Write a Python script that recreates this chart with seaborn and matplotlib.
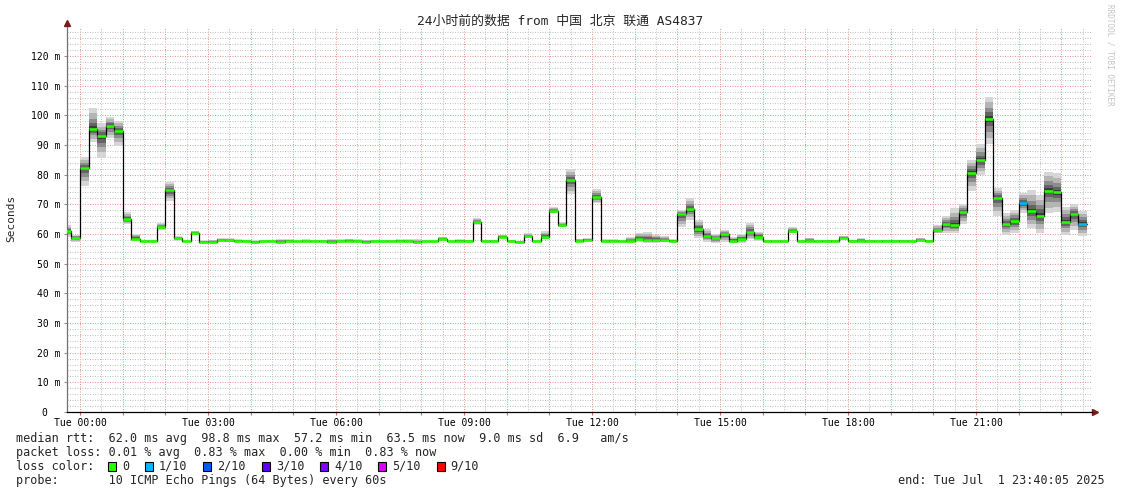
"""
SmokePing style latency graph: 24h of ICMP pings to China Unicom Beijing (AS4837).
"""
import matplotlib
matplotlib.use("Agg")
import matplotlib.pyplot as plt
from matplotlib.ticker import MultipleLocator, FuncFormatter
from matplotlib.patches import Rectangle
import pandas as pd
import seaborn as sns

sns.set_theme(style="white")
MONO = ["DejaVu Sans Mono", "Noto Sans CJK SC"]
plt.rcParams["font.family"] = MONO

W, H = 1121, 494

# 12 minute consolidation bins, minutes relative to Tue 00:00 (first bin is partial)
bin_start_min = [-20] + list(range(-12, 1416, 12))
bin_end_min = 1416

median_ms = [
    61.1, 58.7, 82.2, 95.4, 93.0, 96.5, 94.8, 65.0, 58.4, 57.5,
    57.5, 62.3, 74.7, 58.5, 57.5, 60.4, 57.4, 57.4, 58.0, 57.9,
    57.7, 57.6, 57.4, 57.5, 57.5, 57.4, 57.6, 57.5, 57.5, 57.6,
    57.5, 57.4, 57.5, 57.8, 57.5, 57.4, 57.6, 57.5, 57.5, 57.6,
    57.5, 57.3, 57.5, 57.5, 58.4, 57.5, 57.8, 57.7, 63.9, 57.6,
    57.6, 59.1, 57.7, 57.2, 59.4, 57.6, 59.0, 67.8, 63.0, 78.2,
    57.7, 58.1, 72.5, 57.6, 57.6, 57.6, 57.7, 58.4, 58.0, 58.0,
    58.0, 57.8, 66.6, 68.5, 61.7, 59.3, 58.5, 59.9, 57.8, 58.4,
    60.6, 59.1, 57.6, 57.6, 57.6, 61.1, 57.6, 57.6, 57.6, 57.7,
    57.7, 58.8, 57.7, 57.7, 57.7, 57.6, 57.7, 57.7, 57.7, 57.6,
    58.0, 57.7, 61.3, 63.4, 62.9, 67.3, 80.7, 84.8, 98.8, 72.2,
    63.4, 64.4, 70.3, 67.7, 66.2, 74.6, 74.0, 64.1, 66.6, 63.5,
]

smoke_lo_ms = [
    59.1, 57.4, 76.2, 91.1, 85.7, 92.4, 89.8, 63.3, 57.7, 57.2,
    57.2, 61.3, 71.2, 57.8, 57.2, 59.8, 57.2, 57.2, 57.3, 57.3,
    57.2, 57.2, 57.1, 57.2, 57.2, 57.1, 57.2, 57.2, 57.2, 57.2,
    57.2, 57.1, 57.2, 57.3, 57.2, 57.2, 57.2, 57.2, 57.2, 57.2,
    57.2, 57.1, 57.2, 57.2, 57.8, 57.2, 57.3, 57.3, 63.0, 57.3,
    57.3, 58.5, 57.3, 57.1, 58.6, 57.3, 58.2, 67.0, 62.2, 73.4,
    57.3, 57.6, 70.3, 57.3, 57.3, 57.3, 57.2, 57.4, 57.1, 57.1,
    57.4, 57.3, 62.5, 64.7, 58.5, 57.4, 57.1, 57.4, 57.1, 57.1,
    58.2, 57.6, 57.2, 57.2, 57.2, 60.2, 57.2, 57.2, 57.2, 57.3,
    57.3, 58.3, 57.3, 57.3, 57.3, 57.2, 57.3, 57.3, 57.3, 57.2,
    57.5, 57.3, 60.2, 60.4, 60.2, 63.4, 74.6, 79.9, 90.3, 66.1,
    59.7, 60.4, 67.2, 61.9, 60.4, 67.0, 67.5, 59.7, 61.3, 59.4,
]

smoke_hi_ms = [
    63.0, 59.7, 86.0, 102.4, 97.3, 99.3, 98.1, 67.3, 60.0, 58.0,
    58.0, 63.8, 77.5, 59.2, 57.9, 61.0, 57.9, 58.0, 58.6, 58.6,
    58.2, 57.9, 57.9, 58.0, 58.0, 58.3, 58.3, 57.9, 58.3, 57.9,
    58.0, 58.3, 58.3, 58.3, 58.3, 58.0, 57.9, 58.0, 58.0, 58.3,
    58.3, 58.3, 57.9, 57.9, 59.0, 57.8, 58.2, 58.0, 65.3, 57.9,
    57.9, 59.8, 58.0, 57.7, 60.2, 57.9, 61.0, 69.2, 64.0, 81.9,
    58.3, 58.6, 75.1, 58.2, 58.3, 58.0, 59.1, 60.4, 60.8, 59.7,
    59.3, 58.2, 68.1, 72.0, 64.7, 61.6, 60.0, 61.3, 59.0, 59.9,
    63.8, 60.8, 58.0, 58.0, 57.9, 62.2, 57.9, 58.8, 57.9, 58.0,
    58.0, 59.3, 58.0, 58.6, 58.0, 57.9, 58.0, 58.0, 58.0, 57.9,
    58.8, 58.0, 63.0, 66.1, 68.6, 70.1, 84.9, 90.3, 106.3, 75.4,
    67.0, 68.1, 73.9, 74.8, 73.1, 81.0, 80.4, 69.2, 70.1, 67.8,
]

# lost pings out of 10 per bin
lost_pings = [
    0, 0, 0, 0, 0, 0, 0, 0, 0, 0, 0, 0, 0, 0, 0, 0, 0, 0, 0, 0,
    0, 0, 0, 0, 0, 0, 0, 0, 0, 0, 0, 0, 0, 0, 0, 0, 0, 0, 0, 0,
    0, 0, 0, 0, 0, 0, 0, 0, 0, 0, 0, 0, 0, 0, 0, 0, 0, 0, 0, 0,
    0, 0, 0, 0, 0, 0, 0, 0, 0, 0, 0, 0, 0, 0, 0, 0, 0, 0, 0, 0,
    0, 0, 0, 0, 0, 0, 0, 0, 0, 0, 0, 0, 0, 0, 0, 0, 0, 0, 0, 0,
    0, 0, 0, 0, 0, 0, 0, 0, 0, 0, 0, 0, 1, 0, 0, 0, 0, 0, 0, 1,
]

loss_labels = ["0", "1/10", "2/10", "3/10", "4/10", "5/10", "9/10"]
loss_levels = [0, 1, 2, 3, 4, 5, 9]
loss_colors = ["#26ff00", "#00b8ff", "#0059ff", "#5e00ff", "#7e00ff", "#dd00ff", "#ff0000"]

stats_lines = [
    "median rtt:  62.0 ms avg  98.8 ms max  57.2 ms min  63.5 ms now  9.0 ms sd  6.9   am/s",
    "packet loss: 0.01 % avg  0.83 % max  0.00 % min  0.83 % now",
    "loss color:",
    "probe:       10 ICMP Echo Pings (64 Bytes) every 60s",
]
title = "24小时前的数据 from 中国 北京 联通 AS4837"
end_label = "end: Tue Jul  1 23:40:05 2025"

# ---- frame ----------------------------------------------------------------
df = pd.DataFrame({
    "start_h": [m / 60 for m in bin_start_min],
    "end_h": [m / 60 for m in bin_start_min[1:] + [bin_end_min]],
    "median": median_ms, "lo": smoke_lo_ms, "hi": smoke_hi_ms, "lost": lost_pings,
})
color_of = dict(zip(loss_levels, loss_colors))
df["color"] = df["lost"].map(color_of)

edges = list(df["start_h"]) + [bin_end_min / 60]
def ext(col):
    return list(df[col]) + [df[col].iloc[-1]]

fig = plt.figure(figsize=(W / 100, H / 100), dpi=100)
fig.patch.set_facecolor("white")
x0, x1, y_top, y_bot = 67, 1092, 27, 412
ax = fig.add_axes([x0 / W, 1 - y_bot / H, (x1 - x0) / W, (y_bot - y_top) / H])
ax.set_facecolor("white")

px_per_h = 128 / 3
px_per_ms = 356 / 120
ax.set_xlim(-(80 - x0) / px_per_h, (x1 - 80) / px_per_h)
ax.set_ylim(0, (y_bot - y_top) / px_per_ms)

# dotted grid, rrdtool style
ax.xaxis.set_major_locator(MultipleLocator(1))
ax.xaxis.set_minor_locator(MultipleLocator(0.5))
ax.yaxis.set_major_locator(MultipleLocator(10))
ax.yaxis.set_minor_locator(MultipleLocator(2))
ax.grid(which="minor", color="#c2c2c2", linestyle=(0, (1, 1.5)), linewidth=0.72, zorder=0)
ax.grid(which="major", color="#f09494", linestyle=(0, (1, 1.5)), linewidth=0.72, zorder=0)
ax.set_axisbelow(True)

# smoke: nested bands, darker toward the median
shades = [(1.0, "#d6d6d6"), (0.75, "#b4b4b4"), (0.5, "#8c8c8c"), (0.3, "#646464"), (0.12, "#3c3c3c")]
med_e, lo_e, hi_e = ext("median"), ext("lo"), ext("hi")
for frac, shade in shades:
    lo_f = [m - frac * (m - lo) for m, lo in zip(med_e, lo_e)]
    hi_f = [m + frac * (hi - m) for m, hi in zip(med_e, hi_e)]
    ax.fill_between(edges, lo_f, hi_f, step="post", color=shade, linewidth=0, zorder=1)

# median step line
step_df = pd.DataFrame({"t": edges, "median": med_e})
sns.lineplot(data=step_df, x="t", y="median", drawstyle="steps-post", color="black",
             linewidth=0.9, estimator=None, ax=ax, zorder=2)
ax.hlines(df["median"], df["start_h"], df["end_h"], colors=df["color"], linewidth=1.9, zorder=3)

# axes decoration
for side in ("top", "right"):
    ax.spines[side].set_visible(False)
ax.spines["left"].set_color("#707070")
ax.spines["left"].set_linewidth(0.9)
ax.spines["bottom"].set_color("black")
ax.spines["bottom"].set_linewidth(0.9)
ax.plot([0], [1.01], marker="^", markersize=4, color="#7a1a1a", transform=ax.transAxes, clip_on=False)
ax.plot([1.003], [0], marker=">", markersize=4, color="#7a1a1a", transform=ax.transAxes, clip_on=False)

ax.xaxis.set_major_formatter(FuncFormatter(
    lambda v, p: f"Tue {int(round(v)):02d}:00" if round(v) % 3 == 0 else ""))
ax.yaxis.set_major_formatter(FuncFormatter(
    lambda v, p: "0  " if v == 0 else f"{int(v)} m"))
ax.tick_params(axis="x", which="major", bottom=True, length=2, width=0.8, color="#e06060",
               pad=2, labelsize=7, labelcolor="black")
ax.tick_params(axis="x", which="minor", bottom=False)
ax.tick_params(axis="y", which="major", left=True, length=2, width=0.8, color="#909090",
               pad=3, labelsize=7, labelcolor="black")
ax.tick_params(axis="y", which="minor", left=False)
ax.set_xlabel("")
ax.set_ylabel("")

# texts
fig.text(0.5, 1 - 21.5 / H, title, ha="center", va="center", fontsize=9.3, family=MONO)
fig.text(11 / W, 1 - 218 / H, "Seconds", rotation=90, ha="center", va="center", fontsize=8)
fig.text(1110 / W, 1 - 4 / H, "RRDTOOL / TOBI OETIKER", rotation=-90, ha="center", va="top",
         fontsize=5.5, color="#c4c4c4")

char_w = 7.08
row_y = [438, 452, 466, 480]
for line, y in zip(stats_lines, row_y):
    fig.text(16 / W, 1 - y / H, line, ha="left", va="center", fontsize=8.5)
fig.text(1105 / W, 1 - 480 / H, end_label, ha="right", va="center", fontsize=8.5)

bx = 108
for label, col in zip(loss_labels, loss_colors):
    fig.patches.append(Rectangle((bx / W, 1 - 471 / H), 8 / W, 9 / H, transform=fig.transFigure,
                                 facecolor=col, edgecolor="black", linewidth=0.8))
    lx = bx + 14
    fig.text(lx / W, 1 - 466 / H, label, ha="left", va="center", fontsize=8.5)
    bx = lx + len(label) * char_w + 16

fig.savefig("out.png", dpi=100)
